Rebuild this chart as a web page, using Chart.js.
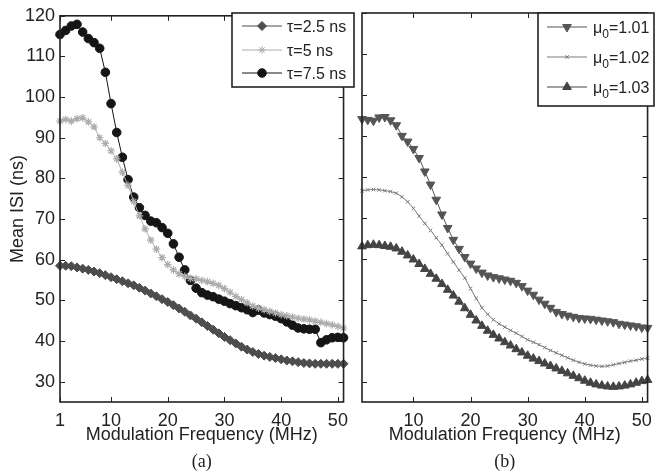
<!DOCTYPE html>
<html>
<head>
<meta charset="utf-8">
<script src="https://cdn.jsdelivr.net/npm/chart.js@4.4.1/dist/chart.umd.min.js"></script>
<style>
  html, body { margin: 0; padding: 0; background: #fff; }
  #wrap { position: relative; width: 660px; height: 473px; }
  #c1 { position: absolute; left: 0; top: 0; width: 356px; height: 473px; }
  #c2 { position: absolute; left: 356px; top: 0; width: 304px; height: 473px; }
</style>
</head>
<body>
<div id="wrap">
  <canvas id="c1" width="356" height="473"></canvas>
  <canvas id="c2" width="304" height="473"></canvas>
</div>
<script>
// ── Data ───────────────────────────────────────────────────
const freq = [1,2,3,4,5,6,7,8,9,10,11,12,13,14,15,16,17,18,19,20,21,22,23,24,25,26,
              27,28,29,30,31,32,33,34,35,36,37,38,39,40,41,42,43,44,45,46,47,48,49,50,51];

// panel (a): mean ISI vs frequency for three tau values
const tau25 = [58.5,58.5,58.4,58.1,57.8,57.5,57.1,56.7,56.2,55.7, 55.2,54.7,54.2,53.7,53.1,52.4,51.7,51.0,50.3,49.6,
               48.8,48.0,47.2,46.3,45.5,44.6,43.7,42.8,41.9,41.0, 40.2,39.4,38.6,37.9,37.3,36.8,36.4,36.1,35.8,35.5,
               35.2,35.0,34.8,34.6,34.5,34.4,34.4,34.4,34.4,34.4, 34.4];
const tau5  = [94.1,94.5,94.1,94.7,94.9,93.9,92.7,90.0,88.6,86.8, 84.8,81.5,78.3,74.3,70.8,67.6,64.8,62.6,60.5,58.8,
               57.5,56.5,55.9,55.4,55.3,54.9,54.6,54.2,53.7,52.9, 52.0,51.0,50.2,49.4,48.6,48.1,47.7,47.3,46.9,46.5,
               46.2,45.9,45.6,45.4,45.2,44.9,44.6,44.3,44.0,43.6, 43.2];
const tau75 = [115.4,116.4,117.5,117.9,116.0,114.4,113.4,112.0,106.1,98.4, 91.3,85.2,79.7,75.4,72.8,70.9,69.5,69.1,67.9,66.5,
               63.9,60.6,57.5,54.9,53.0,51.9,51.3,50.9,50.3,49.8, 49.2,48.7,48.2,47.7,47.0,47.6,46.9,46.5,46.1,45.5,
               44.7,43.9,43.2,43.0,42.9,42.9,39.6,40.3,40.8,40.9, 40.8];

// panel (b): mean ISI vs frequency for three mu0 values
const mu101 = [94.1,93.9,93.7,94.5,94.6,93.8,92.6,90.0,88.6,86.8, 84.6,81.3,78.1,74.4,70.8,67.5,64.6,62.4,60.4,58.8,
               57.6,56.6,55.9,55.5,55.2,54.9,54.6,54.1,53.3,52.2, 51.2,50.0,49.0,48.0,47.0,46.5,46.1,45.8,45.5,45.4,
               45.3,45.1,44.9,44.7,44.5,44.1,43.9,43.7,43.5,43.2, 43.1];
const mu102 = [76.6,76.8,76.9,76.8,76.6,76.4,76.0,75.1,73.9,72.3, 70.4,68.6,66.9,65.1,63.3,61.2,59.2,57.2,55.3,52.7,
               50.3,48.0,46.4,45.1,44.1,43.3,42.5,41.8,41.0,40.2, 39.6,39.0,38.3,37.6,37.0,36.4,35.8,35.2,34.7,34.3,
               34.0,33.8,33.7,33.8,34.1,34.4,34.7,35.0,35.2,35.5, 35.7];
const mu103 = [63.0,63.3,63.4,63.3,63.1,62.9,62.5,61.7,60.8,59.8, 58.7,57.5,56.3,55.1,53.8,52.4,51.0,49.5,47.9,46.3,
               44.9,43.6,42.4,41.4,40.5,39.6,38.8,37.9,37.1,36.3, 35.6,35.0,34.4,33.8,33.2,32.6,32.0,31.4,30.8,30.2,
               29.7,29.3,29.0,28.8,28.7,28.8,29.0,29.3,29.7,30.1, 30.4];

const xTicksA = [1, 10, 20, 30, 40, 50];
const xTicksB = [10, 20, 30, 40, 50];
const yTicks  = [30, 40, 50, 60, 70, 80, 90, 100, 110, 120];

// ── Styling helpers ───────────────────────────────────────
const SANS  = "'Liberation Sans', Arial, sans-serif";
const SERIF = "'Liberation Serif', 'Times New Roman', serif";
const INK   = '#222';
const tickFont = { family: SANS, size: 18 };

function series(label, values, color, style, radius, extra) {
  return Object.assign({
    label,
    data: freq.map((f, i) => ({ x: f, y: values[i] })),
    borderColor: color,
    backgroundColor: color,
    borderWidth: 1,
    pointStyle: style,
    pointRadius: radius,
    pointBackgroundColor: color,
    pointBorderColor: color,
    pointBorderWidth: 1,
    tension: 0,
    clip: 8
  }, extra || {});
}

// box + inward tick marks (MATLAB look)
function drawFrame(chart, xTicks) {
  const { ctx, chartArea: a, scales } = chart;
  ctx.save();
  ctx.strokeStyle = INK;
  ctx.lineWidth = 1;
  const len = 5;
  xTicks.forEach(v => {
    const px = Math.round(scales.x.getPixelForValue(v)) + 0.5;
    ctx.beginPath();
    ctx.moveTo(px, a.bottom); ctx.lineTo(px, a.bottom - len);
    ctx.moveTo(px, a.top);    ctx.lineTo(px, a.top + len);
    ctx.stroke();
  });
  yTicks.forEach(v => {
    const py = Math.round(scales.y.getPixelForValue(v)) + 0.5;
    ctx.beginPath();
    ctx.moveTo(a.left, py);  ctx.lineTo(a.left + len, py);
    ctx.moveTo(a.right, py); ctx.lineTo(a.right - len, py);
    ctx.stroke();
  });
  ctx.lineWidth = 1.6;
  ctx.strokeRect(a.left, a.top, a.right - a.left, a.bottom - a.top);
  ctx.restore();
}

function drawLegend(chart, L) {
  const ctx = chart.ctx;
  ctx.save();
  ctx.fillStyle = '#fff';
  ctx.fillRect(L.x, L.y, L.w, L.h);
  ctx.strokeStyle = INK;
  ctx.lineWidth = 1.6;
  ctx.strokeRect(L.x, L.y, L.w, L.h);
  L.items.forEach((it, i) => {
    const ds = chart.data.datasets[i];
    const y = L.rows[i];
    ctx.strokeStyle = ds.borderColor;
    ctx.fillStyle = ds.borderColor;
    ctx.lineWidth = 1;
    ctx.beginPath();
    ctx.moveTo(L.lineX[0], y); ctx.lineTo(L.lineX[1], y);
    ctx.stroke();
    Chart.helpers.drawPoint(ctx, {
      pointStyle: ds.pointStyle, rotation: ds.pointRotation || 0,
      radius: ds.pointRadius, borderWidth: ds.pointBorderWidth
    }, (L.lineX[0] + L.lineX[1]) / 2, y);
    ctx.fillStyle = INK;
    ctx.textBaseline = 'alphabetic';
    ctx.textAlign = 'left';
    ctx.font = '16px ' + SANS;
    let x = L.textX;
    const base = y + 6;
    ctx.fillText(it.text, x, base);
    x += ctx.measureText(it.text).width;
    if (it.sub) {
      ctx.font = '12px ' + SANS;
      ctx.fillText(it.sub, x, base + 5);
      x += ctx.measureText(it.sub).width;
      ctx.font = '16px ' + SANS;
      ctx.fillText(it.rest, x, base);
    }
  });
  ctx.restore();
}

function framePlugin(xTicks, legend, caption) {
  return {
    id: 'frame',
    afterDraw(chart) {
      drawFrame(chart, xTicks);
      drawLegend(chart, legend);
      const { ctx, chartArea: a } = chart;
      ctx.save();
      ctx.fillStyle = INK;
      ctx.font = '18px ' + SERIF;
      ctx.textAlign = 'center';
      ctx.textBaseline = 'middle';
      ctx.fillText(caption, (a.left + a.right) / 2, 462);
      ctx.restore();
    }
  };
}

function makeScales(xTicks, showY) {
  return {
    x: {
      type: 'linear', min: 1, max: 51,
      afterBuildTicks: s => { s.ticks = xTicks.map(v => ({ value: v })); },
      afterFit: s => { s.height = 47; },
      grid: { display: false, drawTicks: false },
      border: { display: false },
      ticks: { font: tickFont, color: INK, padding: 8, maxRotation: 0, autoSkip: false },
      title: { display: true, text: 'Modulation Frequency (MHz)', font: tickFont, color: INK,
               padding: { top: 0, bottom: 3 } }
    },
    y: {
      type: 'linear', min: 25, max: 120,
      display: showY,
      afterBuildTicks: s => { s.ticks = yTicks.map(v => ({ value: v })); },
      afterFit: s => { s.width = showY ? 60 : 0; },
      grid: { display: false, drawTicks: false },
      border: { display: false },
      ticks: { font: tickFont, color: INK, padding: 5 },
      title: { display: true, text: 'Mean ISI (ns)', font: tickFont, color: INK,
               padding: { top: 7, bottom: 0 } }
    }
  };
}

function baseOptions(pad, xTicks, showY) {
  return {
    responsive: false,
    animation: false,
    events: [],
    layout: { padding: pad },
    scales: makeScales(xTicks, showY),
    plugins: { legend: { display: false }, tooltip: { enabled: false } }
  };
}

// ── Panel (a) ─────────────────────────────────────────────
new Chart(document.getElementById('c1'), {
  type: 'line',
  data: {
    datasets: [
      series('τ=2.5 ns', tau25, '#4d4d4d', 'rectRot', 4.5),
      series('τ=5 ns',   tau5,  '#acacac', 'star',    3.8, { pointBorderWidth: 1.2 }),
      series('τ=7.5 ns', tau75, '#151515', 'circle',  4.3)
    ]
  },
  options: baseOptions({ left: 0, right: 3, top: 13, bottom: 24 }, xTicksA, true),
  plugins: [framePlugin(xTicksA, {
    x: 232, y: 13, w: 122, h: 74,
    rows: [26, 50, 73], lineX: [242, 282], textX: 287,
    items: [{ text: 'τ=2.5 ns' }, { text: 'τ=5 ns' }, { text: 'τ=7.5 ns' }]
  }, '(a)')]
});

// ── Panel (b) ─────────────────────────────────────────────
new Chart(document.getElementById('c2'), {
  type: 'line',
  data: {
    datasets: [
      series('μ0=1.01', mu101, '#555555', 'triangle', 5, { pointRotation: 180 }),
      series('μ0=1.02', mu102, '#7a7a7a', 'crossRot', 2.5),
      series('μ0=1.03', mu103, '#444444', 'triangle', 5)
    ]
  },
  options: baseOptions({ left: 4, right: 6, top: 13, bottom: 24 }, xTicksB, false),
  plugins: [framePlugin(xTicksB, {
    x: 182, y: 13, w: 116, h: 93,
    rows: [27, 57, 87], lineX: [191, 231], textX: 237,
    items: [{ text: 'μ', sub: '0', rest: '=1.01' },
            { text: 'μ', sub: '0', rest: '=1.02' },
            { text: 'μ', sub: '0', rest: '=1.03' }]
  }, '(b)')]
});
</script>
</body>
</html>
